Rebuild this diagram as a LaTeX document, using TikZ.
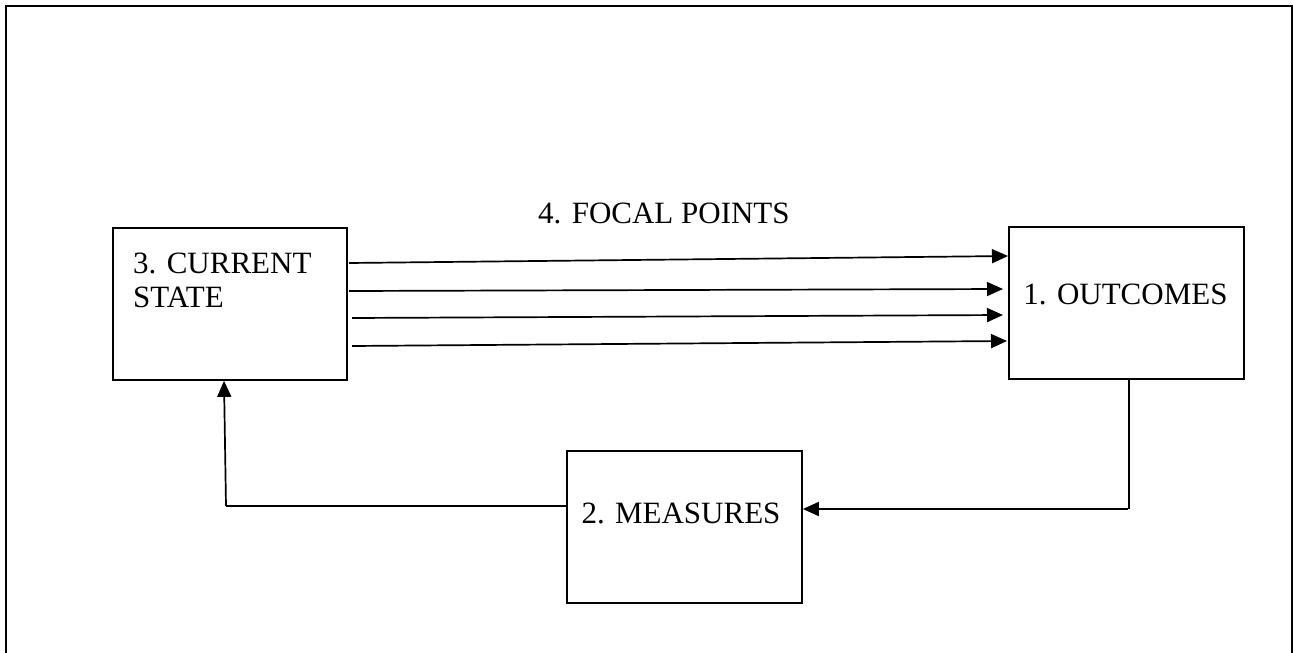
\documentclass[tikz,border=0pt]{standalone}
\usepackage{fontspec}
\setmainfont{Liberation Serif}
\usetikzlibrary{arrows.meta,calc}
\begin{document}
\begin{tikzpicture}[x=1pt,y=-1pt,
  box/.style={draw,line width=1.7pt,minimum width=#1,inner sep=0pt},
  lbl/.style={font=\fontsize{31}{34}\selectfont,inner sep=0pt,align=left},
  conn/.style={line width=1.7pt,-{Triangle[length=16pt,width=14pt]}},
  plain/.style={line width=1.7pt}]
\useasboundingbox (0,0) rectangle (1293,653);
% outer frame (open at the bottom)
\draw[line width=2.4pt] (6,653) -- (6,6) -- (1292,6) -- (1292,653);

% boxes
\node[box=234pt,minimum height=152pt] (cur) at (230,304) {};
\node[box=235pt,minimum height=152pt] (out) at (1126.5,303) {};
\node[box=235pt,minimum height=152pt] (mea) at (684.5,527) {};

% box texts
\node[lbl,anchor=base west] (curtxt) at (133,307) {3. CURRENT\\STATE};
\node[lbl,anchor=base] (outtxt) at (1125.5,304) {1. OUTCOMES};
\node[lbl,anchor=base] (meatxt) at (681,523) {2. MEASURES};
\node[lbl,anchor=base west] (focal) at (538,223) {4. FOCAL POINTS};

% focal point arrows
\coordinate (f1) at (349,263);
\coordinate (f2) at (349,291);
\coordinate (f3) at (352,318);
\coordinate (f4) at (352,346);
\coordinate (g1) at (1008,256);
\coordinate (g2) at (1003,289);
\coordinate (g3) at (1003,315);
\coordinate (g4) at (1007,341);
\foreach \i in {1,...,4} \draw[conn] (f\i) -- (g\i);

% feedback loop
\coordinate (ob) at (1129,379);
\coordinate (oc) at (1129,509);
\draw[plain] (ob) -- (oc);
\draw[conn] ($(oc)+(-1,0)$) -- (mea.east |- oc);
\coordinate (mc) at (226,506);
\draw[plain] (mea.west |- mc) -- (mc);
\draw[conn] (mc) -- (cur.south -| 224,0);
\end{tikzpicture}
\end{document}
